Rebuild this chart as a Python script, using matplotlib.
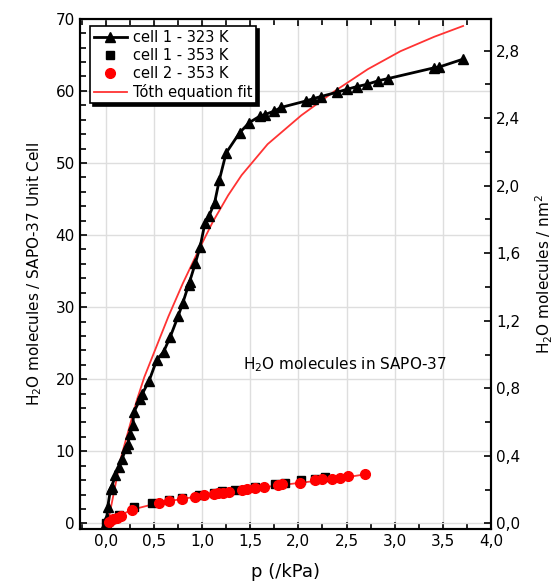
# Water adsorption isotherms in SAPO-37 with Toth fit

import matplotlib.pyplot as plt
from matplotlib.ticker import MultipleLocator, FuncFormatter

# cell 1 - 323 K (triangles)
p_323 = [0.0, 0.01, 0.02, 0.05, 0.06, 0.10, 0.14, 0.17, 0.21, 0.23, 0.25, 0.28, 0.29,
         0.36, 0.38, 0.45, 0.53, 0.60, 0.67, 0.75, 0.80, 0.86, 0.87, 0.93, 0.98, 1.03,
         1.07, 1.13, 1.18, 1.25, 1.39, 1.49, 1.60, 1.65, 1.75, 1.82, 2.08, 2.15, 2.23,
         2.40, 2.50, 2.61, 2.71, 2.83, 2.93, 3.41, 3.46, 3.71]
n_323 = [0.0, 0.7, 2.3, 4.8, 5.0, 6.7, 7.8, 9.0, 10.4, 11.0, 12.4, 13.6, 15.4,
         17.3, 18.0, 19.8, 22.7, 23.8, 25.9, 28.7, 30.6, 33.1, 33.5, 36.1, 38.4, 41.7,
         42.6, 44.5, 47.7, 51.4, 54.2, 55.6, 56.5, 56.7, 57.2, 57.7, 58.6, 58.9, 59.2,
         59.8, 60.2, 60.6, 60.9, 61.4, 61.7, 63.2, 63.3, 64.4]

# cell 1 - 353 K (squares)
p_c1_353 = [0.0, 0.03, 0.14, 0.29, 0.48, 0.66, 0.79, 0.97, 1.12, 1.21, 1.34, 1.55,
            1.76, 1.86, 2.03, 2.17, 2.28]
n_c1_353 = [0.0, 0.4, 1.15, 2.3, 2.8, 3.2, 3.5, 3.9, 4.2, 4.5, 4.7, 5.1,
            5.4, 5.6, 6.0, 6.2, 6.4]

# cell 2 - 353 K (circles)
p_c2_353 = [0.03, 0.07, 0.12, 0.16, 0.27, 0.55, 0.66, 0.79, 0.93, 1.02, 1.12, 1.17,
            1.22, 1.28, 1.41, 1.47, 1.55, 1.64, 1.79, 1.83, 2.02, 2.17, 2.24, 2.35,
            2.43, 2.51, 2.69]
n_c2_353 = [0.2, 0.55, 0.8, 1.0, 1.85, 2.86, 3.1, 3.4, 3.7, 3.9, 4.05, 4.15,
            4.24, 4.4, 4.6, 4.75, 4.84, 5.0, 5.3, 5.4, 5.67, 6.0, 6.1, 6.2,
            6.35, 6.55, 6.9]

# Toth fit curves
p_fit_hi = [0.02, 0.155, 0.32, 0.40, 0.65, 0.80, 0.96, 1.11, 1.27, 1.41, 1.68, 2.03,
            2.37, 2.72, 3.06, 3.41, 3.71]
n_fit_hi = [0.0, 9.0, 17.0, 20.3, 28.7, 33.3, 37.8, 41.8, 45.5, 48.3, 52.6, 56.6,
            59.9, 63.0, 65.5, 67.5, 69.0]
p_fit_lo = [0.02, 0.10, 0.27, 0.55, 1.0, 1.5, 2.0, 2.5, 2.69]
n_fit_lo = [0.1, 0.8, 1.9, 2.85, 3.85, 4.8, 5.6, 6.4, 6.8]

to_nm2 = 0.0427  # molecules per unit cell -> molecules per nm^2

comma = FuncFormatter(lambda v, pos: ('%.1f' % v).replace('.', ','))

fig = plt.figure(figsize=(5.58, 5.86), dpi=100)
ax = fig.add_axes([0.143, 0.097, 0.737, 0.871])

ax.grid(True, color='#dedede', linewidth=1)
ax.set_axisbelow(True)

fit_hi, = ax.plot(p_fit_hi, n_fit_hi, color='#ff3333', linewidth=1.3,
                  label='Tóth equation fit', zorder=3)
ax.plot(p_fit_lo, n_fit_lo, color='#ff3333', linewidth=1.3, zorder=3)
tri, = ax.plot(p_323, n_323, color='black', linewidth=2, marker='^', markersize=6.5,
               label='cell 1 - 323 K', zorder=4)
sq, = ax.plot(p_c1_353, n_c1_353, linestyle='none', color='black', marker='s',
              markersize=5.5, label='cell 1 - 353 K', zorder=4)
circ, = ax.plot(p_c2_353, n_c2_353, linestyle='none', color='red', marker='o',
                markersize=7, label='cell 2 - 353 K', zorder=5)

ax.set_xlim(-0.27, 4.0)
ax.set_ylim(-0.8, 70)
ax.xaxis.set_major_locator(MultipleLocator(0.5))
ax.xaxis.set_minor_locator(MultipleLocator(0.25))
ax.xaxis.set_major_formatter(comma)
ax.yaxis.set_major_locator(MultipleLocator(10))
ax.yaxis.set_minor_locator(MultipleLocator(2))
ax.tick_params(which='both', direction='in', top=True, labelsize=11, width=1.2)
ax.tick_params(which='major', length=5)
ax.tick_params(which='minor', length=4)
for s in ax.spines.values():
    s.set_linewidth(1.5)

ax.set_xlabel('p (/kPa)', fontsize=13, labelpad=10)
ax.set_ylabel('H$_2$O molecules / SAPO-37 Unit Cell', fontsize=11, labelpad=8)

ax2 = ax.twinx()
ax2.set_ylim(-0.8 * to_nm2, 70 * to_nm2)
ax2.yaxis.set_major_locator(MultipleLocator(0.4))
ax2.yaxis.set_minor_locator(MultipleLocator(0.2))
ax2.yaxis.set_major_formatter(comma)
ax2.tick_params(which='both', direction='in', labelsize=11, width=1.2)
ax2.tick_params(which='major', length=5)
ax2.tick_params(which='minor', length=4)
ax2.set_ylabel('H$_2$O molecules / nm$^2$', fontsize=11, labelpad=10)
for s in ax2.spines.values():
    s.set_linewidth(1.5)

ax.text(1.42, 22, 'H$_2$O molecules in SAPO-37', fontsize=11, va='center')

leg = ax.legend(handles=[tri, sq, circ, fit_hi], loc='upper left',
                bbox_to_anchor=(0.025, 0.985), borderaxespad=0,
                fancybox=False, edgecolor='black', fontsize=10.5, handlelength=2.3,
                handletextpad=0.4, borderpad=0.25, labelspacing=0.2, framealpha=1,
                shadow={'facecolor': 'black', 'edgecolor': 'black', 'alpha': 1})
leg.get_frame().set_linewidth(1.2)

plt.savefig('out.png', dpi=100)
